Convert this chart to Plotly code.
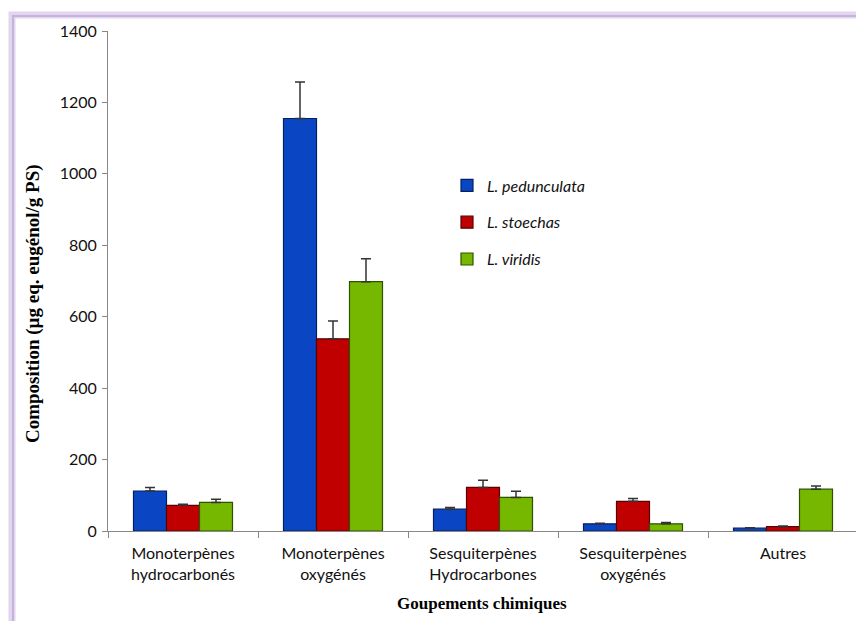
import plotly.graph_objects as go

categories = ["Monoterpènes<br>hydrocarbonés", "Monoterpènes<br>oxygénés",
              "Sesquiterpènes<br>Hydrocarbones", "Sesquiterpènes<br>oxygénés", "Autres"]
series_names = ["<i>L. pedunculata</i>", "<i>L. stoechas</i>", "<i>L. viridis</i>"]
pedunculata = [112, 1155, 61, 20, 8]
pedunculata_err = [10, 102, 5, 2, 1]
stoechas = [72, 538, 122, 83, 12]
stoechas_err = [3, 50, 20, 8, 2]
viridis = [80, 698, 94, 20, 117]
viridis_err = [9, 64, 17, 4, 9]
y_ticks = [0, 200, 400, 600, 800, 1000, 1200, 1400]

values = [pedunculata, stoechas, viridis]
errors = [pedunculata_err, stoechas_err, viridis_err]
fills = ["#0a46c4", "#c00000", "#76b800"]
edges = ["#04205e", "#5a0000", "#2e5200"]

tick_font = dict(family="Lato, Liberation Sans, sans-serif", size=16, color="#111")
title_font = dict(family="Liberation Serif, serif", size=17, color="#000")
ytitle_font = dict(family="Liberation Serif, serif", size=19, color="#000")

fig = go.Figure()
for name, v, e, fc, ec in zip(series_names, values, errors, fills, edges):
    fig.add_trace(go.Bar(
        x=categories, y=v, name=name, legendgroup=name,
        marker=dict(color=fc, line=dict(color=ec, width=1.2)),
        error_y=dict(type="data", array=e, arrayminus=[0] * len(e), symmetric=False,
                     color="#333", thickness=1.5, width=5),
    ))

fig.update_layout(
    width=864, height=621,
    margin=dict(l=100, r=14, t=23, b=98),
    paper_bgcolor="white", plot_bgcolor="white",
    barmode="group", bargap=0.34, bargroupgap=0,
    showlegend=True,
    legend=dict(x=0.452, y=0.725, xanchor="left", yanchor="top",
                font=dict(family="Lato, Liberation Sans, sans-serif", size=16, color="#111"),
                tracegroupgap=13, bgcolor="rgba(0,0,0,0)"),
    xaxis=dict(showline=True, linecolor="#888", linewidth=1, ticks="outside",
               tickson="boundaries", ticklen=6, tickcolor="#888",
               ticklabelstandoff=8,
               tickfont=tick_font, showgrid=False),
    yaxis=dict(range=[0, 1400], tickvals=y_ticks, showline=True, linecolor="#888",
               linewidth=1, ticks="outside", ticklen=5, tickcolor="#888",
               ticklabelstandoff=2,
               tickfont=tick_font, showgrid=False, zeroline=False),
    annotations=[
        dict(text="<b>Composition (µg eq. eugénol/g PS)</b>", textangle=-90,
             xref="paper", yref="paper", x=(33 - 108) / 750, y=(531 - 304) / 500,
             showarrow=False, font=ytitle_font, xanchor="center", yanchor="middle"),
        dict(text="<b>Goupements chimiques</b>",
             xref="paper", yref="paper", x=(482 - 108) / 750, y=(531 - 603) / 500,
             showarrow=False, font=title_font, xanchor="center", yanchor="middle"),
    ],
    shapes=[
        dict(type="rect", xref="paper", yref="paper",
             x0=(12 - 108) / 750, x1=(872 - 108) / 750,
             y0=(531 - 640) / 500, y1=(531 - 15) / 500,
             line=dict(color="#e2d6ef", width=7), layer="below"),
        dict(type="rect", xref="paper", yref="paper",
             x0=(13 - 108) / 750, x1=(872 - 108) / 750,
             y0=(531 - 640) / 500, y1=(531 - 16) / 500,
             line=dict(color="#c7b2de", width=2), layer="below"),
    ],
)

fig.write_html("out.html")
